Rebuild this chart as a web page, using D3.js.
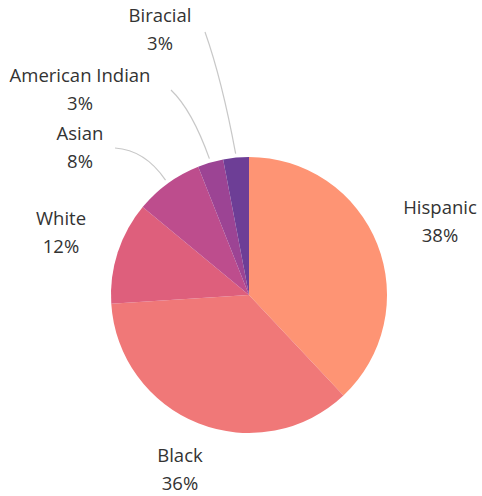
<!DOCTYPE html>
<html>
<head>
<meta charset="utf-8">
<script src="https://cdn.jsdelivr.net/npm/d3@7"></script>
<style>
  body { margin: 0; background: #fff; }
  text { font-family: "Open Sans", "Liberation Sans", sans-serif; fill: #333; font-size: 18.5px; }
</style>
</head>
<body>
<div id="pie"></div>
<script>
// data, clockwise from 12 o'clock
var groups = ["Hispanic", "Black", "White", "Asian", "American Indian", "Biracial"];
var shares = [38, 36, 12, 8, 3, 3];
var colours = ["#fe9474", "#f07878", "#de5f7c", "#bd4d8d", "#9c4494", "#6d3e96"];

// where the labels sit (label centre x, first line y)
var labelX = [440, 180, 61, 80, 80, 160];
var labelY = [214, 462, 225, 140, 82, 22];

var width = 482, height = 496;
var cx = 249, cy = 295, radius = 138;

var svg = d3.select("#pie")
  .append("svg")
  .attr("width", width)
  .attr("height", height);

var g = svg.append("g")
  .attr("transform", "translate(" + cx + "," + cy + ")");

var pie = d3.pie().sort(null).value(function(d) { return d; });
var arcs = pie(shares);
var arc = d3.arc().innerRadius(0).outerRadius(radius);

g.selectAll("path.slice")
  .data(arcs)
  .enter().append("path")
  .attr("class", "slice")
  .attr("d", arc)
  .attr("fill", function(d, i) { return colours[i]; });

// leader lines for the small slices
var lineArc = d3.arc().innerRadius(radius + 4).outerRadius(radius + 4);
var leaders = [
  { i: 3, end: [115, 148], ctrl: [145, 150] },
  { i: 4, end: [171, 90], ctrl: [192, 110] },
  { i: 5, end: [205, 32], ctrl: [222, 80] }
];
leaders.forEach(function(l) {
  var p = lineArc.centroid(arcs[l.i]);
  var sx = p[0] + cx, sy = p[1] + cy;
  svg.append("path")
    .attr("d", "M" + sx + "," + sy + " Q" + l.ctrl[0] + "," + l.ctrl[1] + " " + l.end[0] + "," + l.end[1])
    .attr("fill", "none")
    .attr("stroke", "#c8c8c8")
    .attr("stroke-width", 1.2);
});

// labels
groups.forEach(function(name, i) {
  var t = svg.append("text")
    .attr("x", labelX[i])
    .attr("y", labelY[i])
    .attr("text-anchor", "middle");
  t.append("tspan").attr("x", labelX[i]).text(name);
  t.append("tspan").attr("x", labelX[i]).attr("dy", 28).text(shares[i] + "%");
});
</script>
</body>
</html>
